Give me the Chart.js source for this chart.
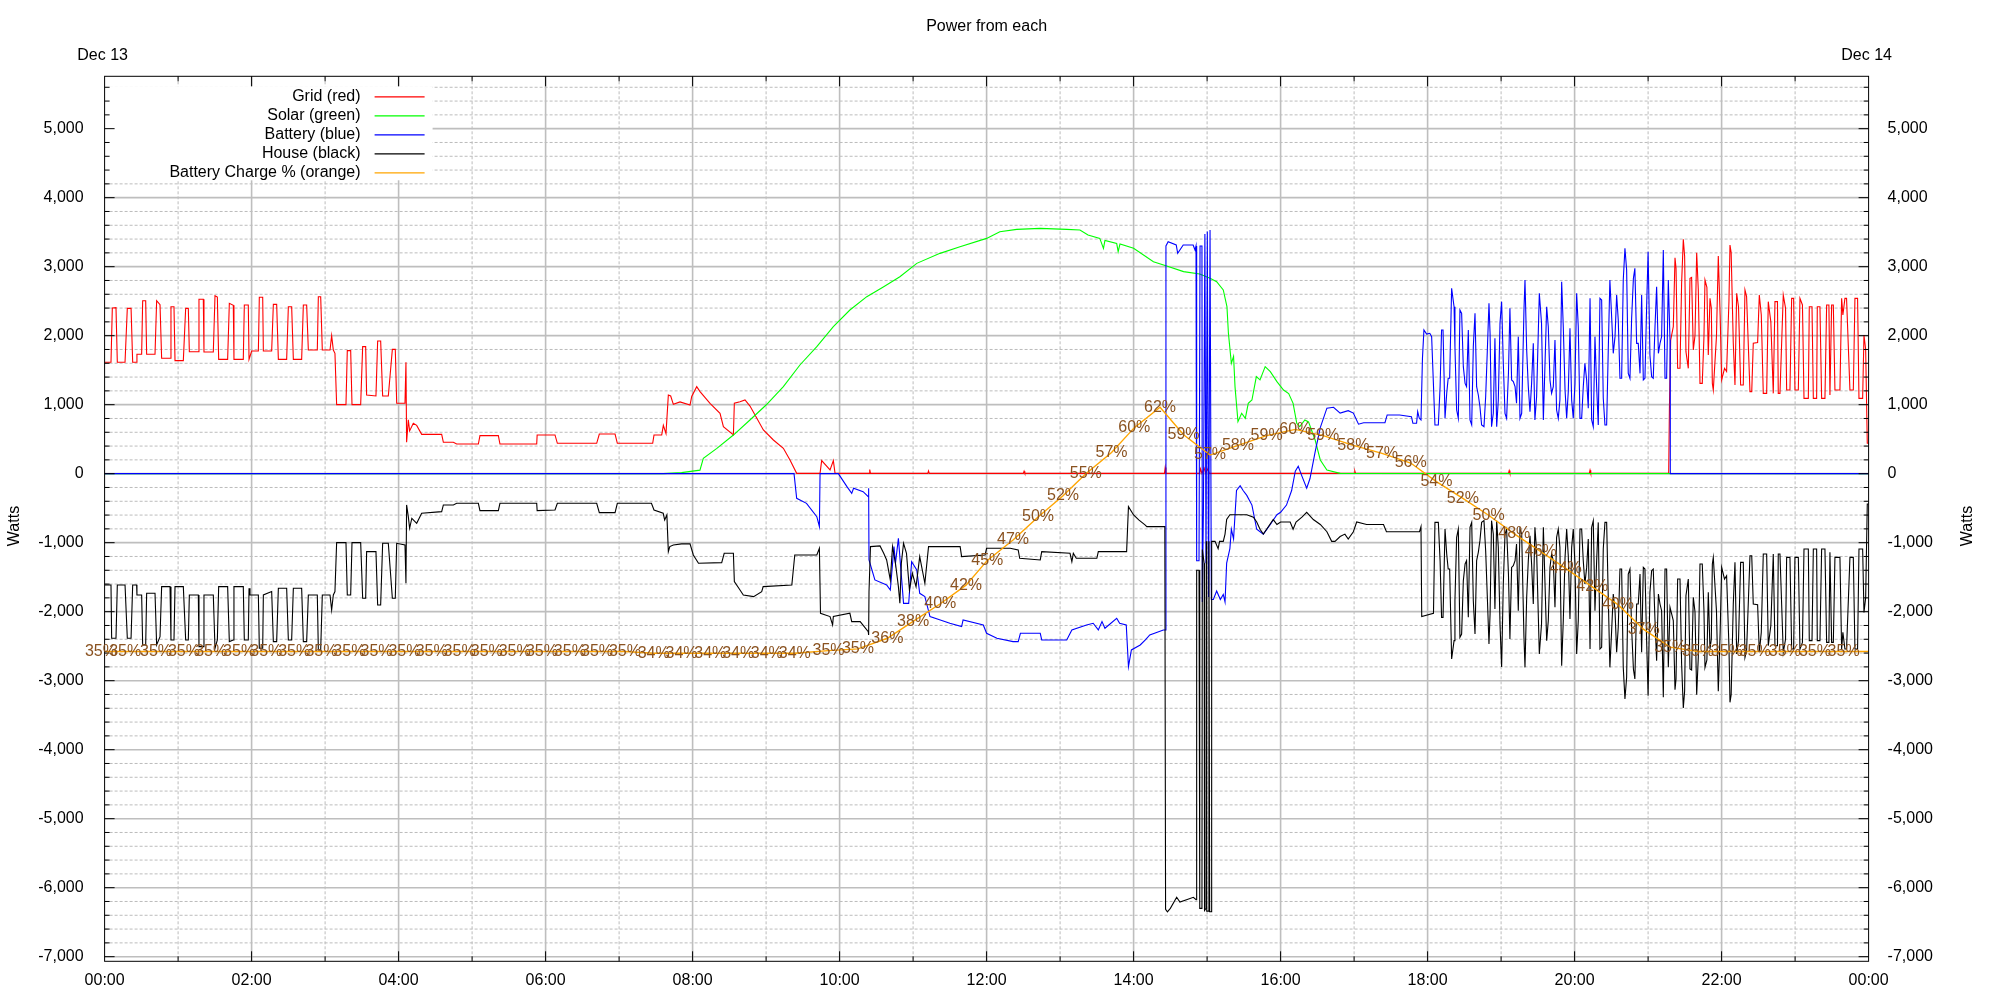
<!DOCTYPE html>
<html>
<head>
<meta charset="utf-8">
<script src="https://cdn.jsdelivr.net/npm/chart.js@4.4.1/dist/chart.umd.min.js"></script>
<style>
  html, body { margin: 0; padding: 0; background: #fff; }
</style>
</head>
<body>
<canvas id="myChart" width="2000" height="1000"></canvas>
<script>
// time is in hours since midnight Dec 13, power in watts
const hourLabels = ['00:00','02:00','04:00','06:00','08:00','10:00','12:00','14:00','16:00','18:00','20:00','22:00','00:00'];
const wattTicks = [-7000,-6000,-5000,-4000,-3000,-2000,-1000,0,1000,2000,3000,4000,5000];

const gridPower = [
[0,1614],[0.087,1614],[0.105,2400],[0.155,2406],[0.173,1614],[0.278,1614],[0.309,2396],[0.36,2396],[0.382,1614],[0.436,1614],[0.44,1730],[0.504,1730],[0.518,2507],[0.559,2507],[0.572,1730],[0.686,1730],[0.708,2507],[0.754,2450],[0.776,1672],[0.89,1672],[0.903,2420],[0.944,2420],[0.958,1638],[1.071,1638],[1.103,2396],[1.139,2396],[1.153,1768],[1.275,1768],[1.284,2527],[1.343,2527],[1.352,1763],[1.479,1763],[1.502,2580],[1.534,2560],[1.552,1657],[1.674,1657],[1.697,2469],[1.751,2440],[1.76,1657],[1.887,1657],[1.901,2445],[1.955,2445],[1.965,1657],[1.978,1657],[2.001,1778],[2.092,1778],[2.105,2556],[2.151,2556],[2.16,1778],[2.273,1778],[2.296,2454],[2.341,2454],[2.364,1657],[2.477,1657],[2.5,2420],[2.545,2420],[2.568,1657],[2.681,1657],[2.704,2445],[2.749,2445],[2.772,1792],[2.894,1792],[2.908,2565],[2.94,2565],[2.962,1792],[3.067,1792],[3.089,2000],[3.112,1792],[3.134,1744],[3.157,1000],[3.284,1000],[3.302,1783],[3.348,1783],[3.366,1000],[3.484,1000],[3.511,1841],[3.552,1841],[3.565,1140],[3.692,1126],[3.715,1923],[3.756,1923],[3.783,1126],[3.86,1126],[3.915,1802],[3.955,1802],[3.974,1020],[4.087,1020],[4.1,1614],[4.109,455],[4.132,780],[4.15,620],[4.2,730],[4.246,700],[4.314,570],[4.586,570],[4.609,455],[4.745,455],[4.79,430],[5.085,430],[5.107,551],[5.357,551],[5.379,430],[5.879,430],[5.885,561],[6.128,561],[6.16,440],[6.695,440],[6.731,575],[6.945,575],[6.976,440],[7.457,440],[7.475,561],[7.58,561],[7.602,700],[7.638,580],[7.67,1140],[7.702,1126],[7.738,1005],[7.829,1040],[7.965,995],[7.988,1120],[8.056,1261],[8.101,1190],[8.237,1020],[8.373,875],[8.419,681],[8.555,561],[8.568,1020],[8.645,1043],[8.713,1068],[8.781,980],[8.963,633],[9.099,488],[9.235,368],[9.325,198],[9.416,5],[9.734,5],[9.756,189],[9.87,54],[9.915,189],[9.938,5],[10.4,5],[10.41,60],[10.42,5],[11.2,5],[11.21,40],[11.22,5],[12.5,5],[12.51,35],[12.52,5],[14.42,5],[14.43,90],[14.44,5],[14.9,5],[14.91,70],[14.93,5],[14.96,80],[14.98,5],[15.01,70],[15.03,5],[17.0,5],[17.01,40],[17.02,5],[19.1,5],[19.11,45],[19.12,5],[20.2,5],[20.21,50],[20.22,5],[21.28,5],
[21.29,950],[21.307,1937],[21.343,2130],[21.366,3130],[21.38,2976],[21.402,1527],[21.434,1527],[21.456,2758],[21.479,3396],[21.497,3150],[21.515,1768],[21.547,1527],[21.57,2831],[21.592,2845],[21.615,1792],[21.638,2000],[21.661,3203],[21.683,2662],[21.706,1309],[21.737,1309],[21.76,1986],[21.774,2807],[21.8,2700],[21.819,1720],[21.842,2541],[21.86,2400],[21.874,1309],[21.887,1213],[21.93,1986],[21.955,3154],[21.98,2300],[22.001,1358],[22.04,1527],[22.068,1480],[22.1,2500],[22.114,3314],[22.13,3203],[22.159,1890],[22.182,1285],[22.205,2614],[22.23,2420],[22.259,1285],[22.295,1285],[22.318,2662],[22.34,2565],[22.386,1189],[22.41,1189],[22.431,1890],[22.49,1900],[22.513,2589],[22.54,2300],[22.567,1164],[22.613,1164],[22.635,2493],[22.67,2200],[22.703,1164],[22.726,2493],[22.76,2493],[22.771,1164],[22.794,1164],[22.839,2589],[22.87,2400],[22.885,1213],[22.93,1213],[22.953,2541],[22.98,2541],[22.998,1213],[23.044,1213],[23.066,2541],[23.1,2445],[23.121,1092],[23.18,1092],[23.193,2420],[23.23,2420],[23.248,1092],[23.293,1092],[23.302,2420],[23.338,2420],[23.361,1092],[23.406,1092],[23.429,2445],[23.46,2445],[23.474,1140],[23.497,2445],[23.52,2445],[23.542,1213],[23.61,1213],[23.633,2541],[23.65,2300],[23.678,2541],[23.7,2541],[23.746,1213],[23.792,1213],[23.814,2541],[23.85,2541],[23.869,1092],[23.919,1092],[23.937,2010],[23.96,1800],[23.982,440],[24.01,440]
];

const solarPower = [
[0,0],[7.6,0],[7.85,15],[8.1,51],[8.146,222],[8.33,367],[8.555,560],[8.78,778],[9.0,995],[9.235,1261],[9.46,1575],[9.69,1840],[9.915,2130],[10.14,2372],[10.37,2565],[10.6,2710],[10.82,2855],[11.05,3048],[11.366,3193],[11.638,3290],[12.0,3410],[12.18,3507],[12.41,3541],[12.73,3555],[13.09,3541],[13.27,3531],[13.38,3459],[13.54,3410],[13.59,3266],[13.61,3380],[13.77,3338],[13.79,3217],[13.815,3330],[14.0,3266],[14.27,3072],[14.45,3010],[14.68,2928],[14.9,2894],[15.04,2831],[15.13,2783],[15.22,2662],[15.27,2420],[15.29,2034],[15.33,1599],[15.36,1700],[15.38,1258],[15.42,754],[15.47,875],[15.52,802],[15.56,1020],[15.61,1068],[15.67,1406],[15.72,1360],[15.79,1551],[15.86,1478],[15.95,1334],[16.04,1213],[16.11,1160],[16.17,1020],[16.22,730],[16.26,682],[16.33,778],[16.38,750],[16.47,488],[16.54,199],[16.63,54],[16.81,5],[24,0]
];

const batteryPower = [
[0,0],[9.38,0],[9.416,-357],[9.55,-430],[9.69,-623],[9.725,-768],[9.734,0],[9.983,0],[10.1,-188],[10.165,-285],[10.19,-212],[10.32,-260],[10.39,-333],[10.395,-212],[10.4,-1250],[10.48,-1540],[10.64,-1613],[10.69,-1686],[10.74,-1057],[10.76,-1300],[10.8,-937],[10.87,-1879],[10.94,-1879],[10.98,-1275],[11.05,-1395],[11.09,-1734],[11.16,-1782],[11.23,-2071],[11.37,-2120],[11.5,-2168],[11.66,-2216],[11.68,-2120],[11.955,-2192],[12.0,-2313],[12.14,-2385],[12.36,-2434],[12.43,-2434],[12.46,-2313],[12.73,-2313],[12.75,-2410],[13.09,-2410],[13.16,-2265],[13.36,-2192],[13.45,-2168],[13.52,-2265],[13.57,-2144],[13.61,-2240],[13.77,-2096],[13.81,-2168],[13.9,-2192],[13.93,-2796],[13.97,-2555],[14.09,-2483],[14.16,-2410],[14.22,-2337],[14.405,-2265],[14.43,-2265],[14.44,3300],[14.47,3362],[14.58,3314],[14.6,3193],[14.675,3314],[14.81,3314],[14.836,3241],[14.849,3300],[14.858,-1262],[14.89,-1262],[14.904,3300],[14.93,3300],[14.935,-1858],[14.95,-525],[14.97,3475],[14.985,-1297],[15.003,3510],[15.02,-1788],[15.04,3531],[15.058,-1823],[15.085,-1823],[15.13,-1700],[15.18,-1823],[15.22,-1750],[15.244,-1858],[15.266,-1297],[15.31,-1086],[15.33,-806],[15.36,-946],[15.4,-244],[15.45,-174],[15.49,-244],[15.54,-315],[15.61,-455],[15.675,-806],[15.765,-876],[15.86,-736],[15.95,-595],[16.0,-560],[16.08,-455],[16.15,-244],[16.2,35],[16.24,107],[16.29,-35],[16.355,-209],[16.4,-70],[16.47,317],[16.54,668],[16.63,949],[16.72,963],[16.81,878],[16.92,913],[16.99,878],[17.06,717],[17.13,738],[17.42,738],[17.45,851],[17.62,851],[17.78,826],[17.8,730],[17.85,730],[17.865,899],[17.887,802],[17.91,778],[17.93,1672],[17.95,2082],[17.987,2024],[18.03,2034],[18.055,1986],[18.078,1334],
[18.1,706],[18.146,706],[18.17,1261],[18.19,2082],[18.21,2082],[18.237,802],[18.26,1164],[18.28,1382],[18.3,1382],[18.327,2686],[18.36,2420],[18.372,1841],[18.395,923],[18.418,802],[18.44,2372],[18.463,2324],[18.486,1551],[18.51,1309],[18.53,1261],[18.554,2082],[18.577,778],[18.6,706],[18.622,1841],[18.645,2324],[18.667,1261],[18.69,1140],[18.712,971],[18.735,706],[18.767,681],[18.79,1116],[18.812,1768],[18.835,2468],[18.85,2034],[18.87,681],[18.894,875],[18.916,1961],[18.94,681],[18.962,1068],[18.985,2179],[19.007,2493],[19.03,1599],[19.053,875],[19.075,802],[19.1,1454],[19.12,2396],[19.143,1358],[19.166,1334],[19.19,1261],[19.21,1020],[19.234,1986],[19.257,802],[19.28,875],[19.311,2372],[19.325,2807],[19.348,1792],[19.37,1261],[19.393,899],[19.415,1309],[19.438,1889],[19.46,778],[19.483,1116],[19.52,2614],[19.55,2179],[19.575,778],[19.62,2420],[19.642,2130],[19.665,1358],[19.687,1164],[19.71,1261],[19.733,1937],[19.755,923],[19.778,802],[19.8,1068],[19.824,2782],[19.846,2130],[19.87,1213],[19.892,802],[19.914,1189],[19.937,2106],[19.96,1068],[19.982,802],[20.005,1309],[20.028,2614],[20.05,2130],[20.073,802],[20.096,802],[20.118,1261],[20.14,1599],[20.164,1358],[20.186,947],[20.21,2541],[20.232,778],[20.254,681],[20.277,1986],[20.3,1261],[20.322,706],[20.345,2541],[20.368,2517],[20.39,1092],[20.413,706],[20.436,706],[20.458,1792],[20.48,2807],[20.504,2275],[20.526,1744],[20.55,1986],[20.572,2589],[20.594,2227],[20.617,1382],[20.64,1382],[20.662,2807],[20.685,3266],[20.708,2951],[20.73,1454],[20.753,1382],[20.776,2251],[20.8,2831],[20.82,2976],[20.844,1889],[20.866,1889],[20.89,1454],[20.912,2589],[20.935,1358],[20.957,1382],[20.98,2420],[21.0,3217],[21.025,1720],[21.048,1406],[21.07,1382],[21.094,2130],[21.116,2710],[21.14,1744],[21.162,1889],[21.184,1986],[21.207,3241],[21.23,1382],[21.252,1382],[21.275,2807],[21.298,1937],[21.302,0],[24,0]
];

const housePower = [
[0,-1613],[0.087,-1613],[0.096,-2386],[0.155,-2386],[0.173,-1613],[0.278,-1613],[0.309,-2386],[0.36,-2386],[0.382,-1613],[0.436,-1613],[0.44,-1758],[0.504,-1758],[0.518,-2482],[0.559,-2482],[0.572,-1734],[0.686,-1734],[0.708,-2482],[0.754,-2362],[0.776,-1637],[0.89,-1637],[0.903,-2410],[0.944,-2410],[0.958,-1637],[1.071,-1637],[1.103,-2410],[1.139,-2410],[1.153,-1758],[1.275,-1758],[1.284,-2506],[1.343,-2506],[1.352,-1758],[1.479,-1758],[1.502,-2531],[1.534,-2410],[1.552,-1637],[1.674,-1637],[1.697,-2434],[1.751,-2410],[1.76,-1637],[1.887,-1637],[1.901,-2410],[1.955,-2410],[1.965,-1661],[1.978,-1758],[2.092,-1758],[2.105,-2531],[2.151,-2531],[2.16,-1758],[2.273,-1709],[2.296,-2434],[2.341,-2434],[2.364,-1661],[2.477,-1661],[2.5,-2410],[2.545,-2410],[2.568,-1661],[2.681,-1661],[2.704,-2434],[2.749,-2434],[2.772,-1758],[2.894,-1758],[2.908,-2555],[2.94,-2555],[2.962,-1758],[3.067,-1758],[3.089,-1975],[3.112,-1758],[3.134,-1709],[3.157,-999],[3.284,-999],[3.302,-1758],[3.348,-1758],[3.366,-999],[3.484,-999],[3.511,-1806],[3.552,-1806],[3.565,-1130],[3.692,-1130],[3.715,-1903],[3.756,-1903],[3.783,-1009],[3.86,-1009],[3.915,-1806],[3.955,-1806],[3.974,-1009],[4.087,-1033],[4.1,-1589],[4.109,-453],[4.132,-622],[4.15,-791],[4.18,-646],[4.246,-719],[4.314,-574],[4.586,-550],[4.609,-453],[4.745,-453],[4.79,-429],[5.085,-429],[5.107,-536],[5.357,-536],[5.379,-429],[5.879,-429],[5.885,-536],[6.128,-526],[6.16,-429],[6.695,-429],[6.731,-565],[6.945,-565],[6.976,-429],[7.44,-429],[7.475,-526],[7.6,-574],[7.62,-671],[7.65,-598],[7.67,-1130],[7.69,-1057],[7.738,-1033],[7.85,-1018],[7.965,-1018],[8.01,-1178],[8.08,-1299],[8.396,-1289],[8.43,-1154],[8.555,-1154],[8.568,-1564],[8.645,-1685],[8.69,-1758],[8.83,-1782],[8.94,-1710],[8.96,-1637],[9.35,-1613],[9.39,-1178],[9.69,-1178],[9.725,-1082],[9.74,-2023],[9.87,-2071],[9.905,-2192],[9.915,-2071],[10.14,-2023],[10.165,-2144],[10.28,-2144],[10.39,-2289],[10.395,-2337],[10.4,-1710],[10.42,-1057],[10.55,-1047],[10.6,-1154],[10.64,-1250],[10.69,-1540],[10.72,-1057],[10.76,-1299],[10.8,-1637],[10.82,-1878],[10.84,-1299],[10.87,-1009],[10.91,-1154],[10.95,-1685],[10.99,-1444],[11.04,-1637],[11.09,-1202],[11.16,-1589],[11.21,-1057],[11.64,-1057],[11.66,-1202],[11.98,-1178],[12.0,-1081],[12.32,-1081],[12.43,-1105],[12.45,-1226],[12.73,-1250],[12.75,-1130],[13.135,-1154],[13.16,-1274],[13.18,-1154],[13.22,-1226],[13.5,-1226],[13.52,-1130],[13.905,-1130],[13.93,-478],[14.0,-598],[14.07,-670],[14.155,-743],[14.18,-767],[14.425,-767],[14.435,-6314],[14.46,-6350],[14.5,-6300],[14.586,-6139],[14.63,-6209],[14.72,-6174],[14.813,-6139],[14.85,-6174],[14.858,-1400],[14.89,-1400],[14.9,-6300],[14.93,-6300],[14.935,-1100],[14.96,-1300],[14.965,-6330],[14.985,-6300],[14.99,-981],[14.995,-6340],[15.02,-6340],[15.025,-981],[15.035,-6349],[15.058,-6349],[15.062,-981],[15.108,-981],[15.15,-1086],[15.17,-981],[15.22,-981],[15.244,-876],[15.266,-665],[15.31,-595],[15.54,-595],[15.63,-630],[15.675,-700],[15.72,-806],[15.765,-876],[15.81,-806],[15.9,-665],[15.95,-736],[16.0,-700],[16.13,-700],[16.17,-806],[16.21,-700],[16.29,-630],[16.355,-560],[16.445,-665],[16.54,-736],[16.63,-841],[16.695,-981],[16.74,-981],[16.81,-911],[16.875,-876],[16.92,-946],[16.99,-841],[17.035,-700],[17.17,-736],[17.4,-736],[17.44,-841],[17.89,-841],[17.91,-768],[17.92,-2072],[18.08,-2024],
[18.1,-706],[18.146,-706],[18.17,-1261],[18.19,-2082],[18.21,-2082],[18.237,-802],[18.26,-1164],[18.28,-1382],[18.3,-1382],[18.327,-2686],[18.36,-2420],[18.372,-1841],[18.395,-923],[18.418,-802],[18.44,-2372],[18.463,-2324],[18.486,-1551],[18.51,-1309],[18.53,-1261],[18.554,-2082],[18.577,-778],[18.6,-706],[18.622,-1841],[18.645,-2324],[18.667,-1261],[18.69,-1140],[18.712,-971],[18.735,-706],[18.767,-681],[18.79,-1116],[18.812,-1768],[18.835,-2468],[18.85,-2034],[18.87,-681],[18.894,-875],[18.916,-1961],[18.94,-681],[18.962,-1068],[18.985,-2179],[19.007,-2800],[19.03,-1599],[19.053,-875],[19.075,-802],[19.1,-1454],[19.12,-2396],[19.143,-1358],[19.166,-1334],[19.19,-1261],[19.21,-1020],[19.234,-1986],[19.257,-802],[19.28,-875],[19.311,-2372],[19.325,-2807],[19.348,-1792],[19.37,-1261],[19.393,-899],[19.415,-1309],[19.438,-1889],[19.46,-778],[19.483,-1116],[19.52,-2614],[19.55,-2179],[19.575,-778],[19.62,-2420],[19.642,-2130],[19.665,-1358],[19.687,-1164],[19.71,-1261],[19.733,-1937],[19.755,-923],[19.778,-802],[19.8,-1068],[19.824,-2782],[19.846,-2130],[19.87,-1213],[19.892,-802],[19.914,-1189],[19.937,-2106],[19.96,-1068],[19.982,-802],[20.005,-1309],[20.028,-2614],[20.05,-2130],[20.073,-802],[20.096,-802],[20.118,-1261],[20.14,-1599],[20.164,-1358],[20.186,-947],[20.21,-2541],[20.232,-778],[20.254,-681],[20.277,-1986],[20.3,-1261],[20.322,-706],[20.345,-2541],[20.368,-2517],[20.39,-1092],[20.413,-706],[20.436,-706],[20.458,-1792],[20.48,-2807],[20.504,-2275],[20.526,-1744],[20.55,-1986],[20.572,-2589],[20.594,-2227],[20.617,-1382],[20.64,-1382],[20.662,-2807],[20.685,-3266],[20.708,-2951],[20.73,-1454],[20.753,-1382],[20.776,-2251],[20.8,-2831],[20.82,-2976],[20.844,-1889],[20.866,-1889],[20.89,-1454],[20.912,-2589],[20.935,-1358],[20.957,-1382],[20.98,-2420],[21.0,-3217],[21.025,-1720],[21.048,-1406],[21.07,-1382],[21.094,-2130],[21.116,-2710],[21.14,-1744],[21.162,-1889],[21.184,-1986],[21.207,-3241],[21.23,-1382],[21.252,-1382],[21.275,-2807],[21.298,-1937],
[21.307,-1937],[21.343,-2130],[21.366,-3130],[21.38,-2976],[21.402,-1527],[21.434,-1527],[21.456,-2758],[21.479,-3396],[21.497,-3150],[21.515,-1768],[21.547,-1527],[21.57,-2831],[21.592,-2845],[21.615,-1792],[21.638,-2000],[21.661,-3203],[21.683,-2662],[21.706,-1309],[21.737,-1309],[21.76,-1986],[21.774,-2807],[21.8,-2700],[21.819,-1720],[21.842,-2541],[21.86,-2400],[21.874,-1309],[21.887,-1213],[21.93,-1986],[21.955,-3154],[21.98,-2300],[22.001,-1358],[22.04,-1527],[22.068,-1480],[22.1,-2500],[22.114,-3314],[22.13,-3203],[22.159,-1890],[22.182,-1285],[22.205,-2614],[22.23,-2420],[22.259,-1285],[22.295,-1285],[22.318,-2662],[22.34,-2565],[22.386,-1189],[22.41,-1189],[22.431,-1890],[22.49,-1900],[22.513,-2589],[22.54,-2300],[22.567,-1164],[22.613,-1164],[22.635,-2493],[22.67,-2200],[22.703,-1164],[22.726,-2493],[22.76,-2493],[22.771,-1164],[22.794,-1164],[22.839,-2589],[22.87,-2400],[22.885,-1213],[22.93,-1213],[22.953,-2541],[22.98,-2541],[22.998,-1213],[23.044,-1213],[23.066,-2541],[23.1,-2445],[23.121,-1092],[23.18,-1092],[23.193,-2420],[23.23,-2420],[23.248,-1092],[23.293,-1092],[23.302,-2420],[23.338,-2420],[23.361,-1092],[23.406,-1092],[23.429,-2445],[23.46,-2445],[23.474,-1140],[23.497,-2445],[23.52,-2445],[23.542,-1213],[23.61,-1213],[23.633,-2541],[23.65,-2300],[23.678,-2541],[23.7,-2541],[23.746,-1213],[23.792,-1213],[23.814,-2541],[23.85,-2541],[23.869,-1092],[23.919,-1092],[23.937,-2010],[23.96,-1800],[23.982,-440],[24.01,-440]
];

// battery state of charge, percent (plotted on its own 0-100 scale)
const chargeLevel = [
[-0.05,35.0],[0.28,35.0],[0.70,35.0],[1.08,35.0],[1.45,35.0],[1.83,35.0],[2.20,35.0],[2.58,35.0],[2.95,35.0],[3.33,35.0],[3.70,35.0],[4.08,35.0],[4.45,35.0],[4.83,35.0],[5.20,35.0],[5.58,35.0],[5.95,35.0],[6.33,35.0],[6.70,35.0],[7.08,35.0],[7.47,34.8],[7.85,34.8],[8.24,34.8],[8.62,34.8],[9.01,34.8],[9.39,34.8],[9.85,35.1],[10.25,35.3],[10.65,36.5],[11.0,38.4],[11.37,40.4],[11.72,42.5],[12.01,45.3],[12.36,47.6],[12.70,50.2],[13.04,52.6],[13.35,55.1],[13.70,57.5],[14.01,60.3],[14.36,62.6],[14.68,59.5],[15.04,57.2],[15.42,58.3],[15.81,59.4],[16.20,60.1],[16.58,59.4],[16.99,58.3],[17.38,57.4],[17.77,56.3],[18.12,54.2],[18.48,52.3],[18.83,50.4],[19.18,48.3],[19.54,46.3],[19.88,44.4],[20.24,42.3],[20.59,40.3],[20.94,37.5],[21.30,35.5],[21.68,35.0],[22.07,35.0],[22.45,35.0],[22.86,35.0],[23.27,35.0],[23.66,35.0],[24.05,35.0]
];

const FONT = '"Liberation Sans", Arial, sans-serif';
Chart.defaults.font.family = FONT;
Chart.defaults.font.size = 16;
Chart.defaults.color = '#000';

const toXY = pairs => pairs.map(p => ({ x: p[0], y: p[1] }));
const fmt = v => (v < 0 ? '-' : '') + Math.abs(v).toString().replace(/\B(?=(\d{3})+(?!\d))/g, ',');

const legendItems = [
    ['Grid (red)', '#ff0000'],
    ['Solar (green)', '#00ff00'],
    ['Battery (blue)', '#0000ff'],
    ['House (black)', '#000000'],
    ['Battery Charge % (orange)', '#ffa500']
];

// gnuplot style grid: solid every 1000 W / 2 h, dashed in between
const gnuGrid = {
    id: 'gnuGrid',
    beforeDatasetsDraw(chart) {
        const { ctx, chartArea: a, scales: { x, y } } = chart;
        ctx.save();
        ctx.lineWidth = 1;
        ctx.strokeStyle = '#bcbcbc';
        ctx.setLineDash([3, 2]);
        ctx.beginPath();
        for (let h = 1; h < 24; h += 2) {
            const px = x.getPixelForValue(h);
            ctx.moveTo(px, a.top); ctx.lineTo(px, a.bottom);
        }
        for (let w = -7000; w <= 5600; w += 200) {
            if (w % 1000 === 0) continue;
            const py = y.getPixelForValue(w);
            ctx.moveTo(a.left, py); ctx.lineTo(a.right, py);
        }
        ctx.stroke();
        ctx.setLineDash([]);
        ctx.lineWidth = 1.6;
        ctx.strokeStyle = '#bebebe';
        ctx.beginPath();
        for (let h = 2; h < 24; h += 2) {
            const px = x.getPixelForValue(h);
            ctx.moveTo(px, a.top); ctx.lineTo(px, a.bottom);
        }
        wattTicks.forEach(w => {
            const py = y.getPixelForValue(w);
            ctx.moveTo(a.left, py); ctx.lineTo(a.right, py);
        });
        ctx.stroke();

        // key box
        ctx.fillStyle = '#fff';
        ctx.fillRect(a.left, a.top + 10, 328, 94);
        ctx.font = '16px ' + FONT;
        ctx.textAlign = 'right';
        ctx.textBaseline = 'middle';
        legendItems.forEach((it, i) => {
            const ly = a.top + 20 + i * 19;
            ctx.fillStyle = '#000';
            ctx.fillText(it[0], a.left + 256, ly);
            ctx.strokeStyle = it[1];
            ctx.lineWidth = 1.2;
            ctx.beginPath();
            ctx.moveTo(a.left + 270, ly + 0.5); ctx.lineTo(a.left + 320, ly + 0.5);
            ctx.stroke();
        });
        ctx.restore();
    },
    afterDatasetsDraw(chart) {
        const { ctx, chartArea: a, scales: { x, y, yp } } = chart;
        ctx.save();
        // border and inward tics
        ctx.strokeStyle = '#000';
        ctx.lineWidth = 1;
        ctx.strokeRect(a.left, a.top, a.right - a.left, a.bottom - a.top);
        ctx.beginPath();
        for (let w = -7000; w <= 5600; w += 200) {
            const len = w % 1000 === 0 ? 10 : 5;
            const py = y.getPixelForValue(w);
            ctx.moveTo(a.left, py); ctx.lineTo(a.left + len, py);
            ctx.moveTo(a.right, py); ctx.lineTo(a.right - len, py);
        }
        for (let h = 1; h < 24; h++) {
            const len = h % 2 === 0 ? 10 : 5;
            const px = x.getPixelForValue(h);
            ctx.moveTo(px, a.bottom); ctx.lineTo(px, a.bottom - len);
            ctx.moveTo(px, a.top); ctx.lineTo(px, a.top + len);
        }
        ctx.stroke();

        // charge labels at each sample
        ctx.font = '16px ' + FONT;
        ctx.fillStyle = '#8a5220';
        ctx.textAlign = 'center';
        ctx.textBaseline = 'middle';
        chargeLevel.forEach(([h, p]) => {
            if (h > 24) return;
            ctx.fillText(Math.floor(p) + '%', x.getPixelForValue(h), yp.getPixelForValue(p));
        });
        ctx.restore();
    },
    afterDraw(chart) {
        const { ctx, chartArea: a } = chart;
        ctx.save();
        ctx.fillStyle = '#000';
        ctx.font = '16px ' + FONT;
        ctx.textAlign = 'center';
        ctx.textBaseline = 'middle';
        ctx.fillText('Power from each', (a.left + a.right) / 2, 27);
        ctx.fillText('Dec 13', a.left - 2, 56);
        ctx.fillText('Dec 14', a.right - 2, 56);
        [15, 1968].forEach(tx => {
            ctx.save();
            ctx.translate(tx, 526);
            ctx.rotate(-Math.PI / 2);
            ctx.fillText('Watts', 0, 0);
            ctx.restore();
        });
        ctx.restore();
    }
};

const common = { borderWidth: 1.1, pointRadius: 0, fill: false, tension: 0 };
const setWattTicks = s => { s.ticks = wattTicks.map(v => ({ value: v })); };

const ctx = document.getElementById('myChart').getContext('2d');
const myChart = new Chart(ctx, {
    type: 'line',
    data: {
        datasets: [
            { ...common, label: 'Grid (red)', data: toXY(gridPower), borderColor: '#ff0000', order: 5 },
            { ...common, label: 'Solar (green)', data: toXY(solarPower), borderColor: '#00ff00', order: 4 },
            { ...common, label: 'Battery (blue)', data: toXY(batteryPower), borderColor: '#0000ff', order: 3 },
            { ...common, label: 'House (black)', data: toXY(housePower), borderColor: '#000000', order: 2 },
            { ...common, label: 'Battery Charge % (orange)', data: toXY(chargeLevel), borderColor: '#ffa500', borderWidth: 1.4, yAxisID: 'yp', order: 1 }
        ]
    },
    options: {
        responsive: false,
        devicePixelRatio: 1,
        animation: false,
        events: [],
        layout: { padding: { top: 76.3, left: 0, right: 0, bottom: 0 } },
        scales: {
            x: {
                type: 'linear', position: 'bottom', min: 0, max: 24,
                afterFit: s => { s.height = 38.7; },
                grid: { display: false }, border: { display: false },
                ticks: {
                    stepSize: 1, autoSkip: false, maxRotation: 0, padding: 2,
                    callback: v => (v % 2 === 0 ? hourLabels[v / 2] : '')
                }
            },
            y: {
                position: 'left', min: -7067, max: 5759,
                afterFit: s => { s.width = 104.6; },
                afterBuildTicks: setWattTicks,
                grid: { display: false }, border: { display: false },
                ticks: { padding: 13, callback: v => fmt(v) }
            },
            y2: {
                position: 'right', min: -7067, max: 5759,
                afterFit: s => { s.width = 131.4; },
                afterBuildTicks: setWattTicks,
                grid: { display: false }, border: { display: false },
                ticks: { padding: 11, callback: v => fmt(v) }
            },
            yp: { display: false, min: 0, max: 100 }
        },
        plugins: {
            legend: { display: false },
            tooltip: { enabled: false },
            title: { display: false }
        }
    },
    plugins: [gnuGrid]
});
</script>
</body>
</html>
